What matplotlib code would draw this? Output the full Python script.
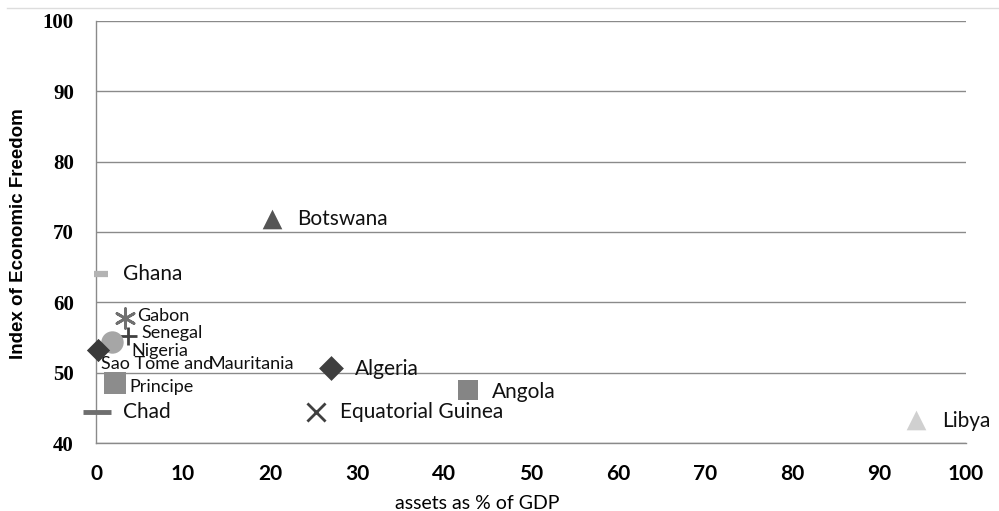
import matplotlib.pyplot as plt
from matplotlib.lines import Line2D

countries = ['Botswana', 'Ghana', 'Gabon', 'Senegal', 'Nigeria', 'Sao Tome and Principe',
             'Mauritania', 'Chad', 'Algeria', 'Equatorial Guinea', 'Angola', 'Libya']
assets = [20.2, 0.6, 3.3, 3.7, 1.8, 0.2, 2.2, 0.1, 27.0, 25.3, 42.8, 94.3]
freedom = [71.8, 64.0, 57.8, 55.2, 54.4, 53.2, 48.6, 44.4, 50.7, 44.4, 47.5, 43.3]

markers = ['^', '_', (6, 2, 0), '+', 'o', 'D', 's', '_', 'D', 'x', 's', '^']
colors = ['#555555', '#b3b3b3', '#707070', '#404040', '#a6a6a6', '#3a3a3a',
          '#8c8c8c', '#6e6e6e', '#3f3f3f', '#404040', '#858585', '#d0d0d0']
sizes = [200, 90, 200, 180, 260, 140, 260, 420, 160, 170, 220, 200]

# label text, x, y, fontsize (positions)
labels = [('Botswana', 23.1, 71.8, 15), ('Ghana', 3.1, 64.0, 15),
          ('Gabon', 4.7, 58.0, 13), ('Senegal', 5.2, 55.6, 13),
          ('Nigeria', 4.1, 53.1, 13), ('Sao Tome and', 0.6, 51.3, 13),
          ('Mauritania', 12.9, 51.3, 13), ('Principe', 3.8, 48.0, 13),
          ('Chad', 3.1, 44.4, 15), ('Algeria', 29.8, 50.5, 15),
          ('Equatorial Guinea', 28.1, 44.4, 15), ('Angola', 45.5, 47.3, 15),
          ('Libya', 97.3, 43.2, 15)]


def main():
    fig = plt.figure(figsize=(9.99, 5.11), dpi=100)
    ax = fig.add_axes([0.0961, 0.133, 0.8709, 0.826])
    for i in range(len(countries)):
        m = markers[i]
        lw = 2.0 if m in ('+', 'x', (6, 2, 0)) else 0
        if m == '_':
            lw = 3.5 if countries[i] == 'Chad' else 4.5
        ax.scatter(assets[i], freedom[i], marker=m, s=sizes[i], c=colors[i],
                   linewidths=lw, zorder=3, clip_on=False)
    for t, x, y, fs in labels:
        ax.text(x, y, t, fontsize=fs, family='Lato', va='center', ha='left',
                color='#111111', zorder=4)

    ax.set_xlim(0, 100)
    ax.set_ylim(40, 100)
    ax.set_xticks(range(0, 101, 10))
    ax.set_yticks(range(40, 101, 10))
    ax.yaxis.grid(True, color='#8a8a8a', lw=1.0)
    ax.set_axisbelow(True)
    for s in ['top', 'right']:
        ax.spines[s].set_visible(False)
    for s in ['left', 'bottom']:
        ax.spines[s].set_color('#8a8a8a')
        ax.spines[s].set_linewidth(1.0)
    ax.tick_params(length=0)
    ax.tick_params(axis='x', pad=15)
    ax.tick_params(axis='y', pad=16)
    for lab in ax.get_xticklabels():
        lab.set_fontsize(15)
        lab.set_fontweight('bold')
        lab.set_family('Lato')
    for lab in ax.get_yticklabels():
        lab.set_fontsize(15)
        lab.set_fontweight('bold')
        lab.set_family('Liberation Serif')
    ax.set_xlabel('assets as % of GDP', fontsize=14, family='Lato', va='center')
    ax.xaxis.set_label_coords(0.438, -0.143)
    ax.set_ylabel('Index of Economic Freedom', fontsize=13.5, fontweight='bold',
                  family='Liberation Sans', va='center')
    ax.yaxis.set_label_coords(-0.089, 0.497)
    fig.add_artist(Line2D([0.007, 1.0], [0.984, 0.984], color='#dddddd', lw=1.0))
    fig.savefig('out.png', dpi=100)


if __name__ == '__main__':
    main()
